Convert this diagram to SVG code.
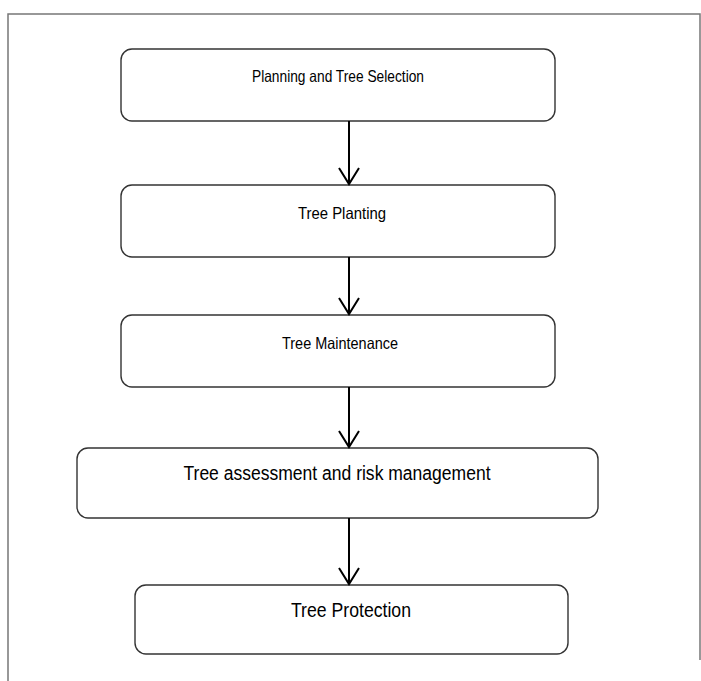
<svg xmlns="http://www.w3.org/2000/svg" width="701" height="681" viewBox="0 0 701 681">
<style>
.frame{stroke:#777;stroke-width:1.5;fill:none}
.box{fill:#fff;stroke:#333;stroke-width:1.4}
.lbl{font-family:"Liberation Sans",Arial,sans-serif;font-size:20px;fill:#000;text-anchor:middle}
.sm{font-size:16.5px}
.conn{stroke:#000;stroke-width:2;fill:none}
</style>
<defs>
<marker id="arr" markerUnits="userSpaceOnUse" markerWidth="20" markerHeight="24" refX="17" refY="11" orient="auto" viewBox="0 0 20 22">
<path d="M1,1 L17,11 L1,21" fill="none" stroke="#000" stroke-width="2"/>
</marker>
</defs>
<g id="frame">
<path class="frame" d="M8,681 V14 H700 V660"/>
</g>
<g id="n1"><rect class="box" x="121" y="49" width="434" height="72" rx="11"/><text class="lbl sm" x="338" y="82" textLength="172" lengthAdjust="spacingAndGlyphs">Planning and Tree Selection</text></g>
<g id="n2"><rect class="box" x="121" y="185" width="434" height="72" rx="11"/><text class="lbl sm" x="342" y="219" textLength="88" lengthAdjust="spacingAndGlyphs">Tree Planting</text></g>
<g id="n3"><rect class="box" x="121" y="315" width="434" height="72" rx="11"/><text class="lbl sm" x="340" y="349" textLength="116" lengthAdjust="spacingAndGlyphs">Tree Maintenance</text></g>
<g id="n4"><rect class="box" x="77" y="448" width="521" height="70" rx="11"/><text class="lbl" x="337" y="480" textLength="307" lengthAdjust="spacingAndGlyphs">Tree assessment and risk management</text></g>
<g id="n5"><rect class="box" x="135" y="585" width="433" height="69" rx="11"/><text class="lbl" x="351" y="617" textLength="120" lengthAdjust="spacingAndGlyphs">Tree Protection</text></g>
<g id="connectors">
<line class="conn" x1="349" y1="121" x2="349" y2="184" marker-end="url(#arr)"/>
<line class="conn" x1="349" y1="257" x2="349" y2="314" marker-end="url(#arr)"/>
<line class="conn" x1="349" y1="387" x2="349" y2="447" marker-end="url(#arr)"/>
<line class="conn" x1="349" y1="518" x2="349" y2="584" marker-end="url(#arr)"/>
</g>
</svg>
